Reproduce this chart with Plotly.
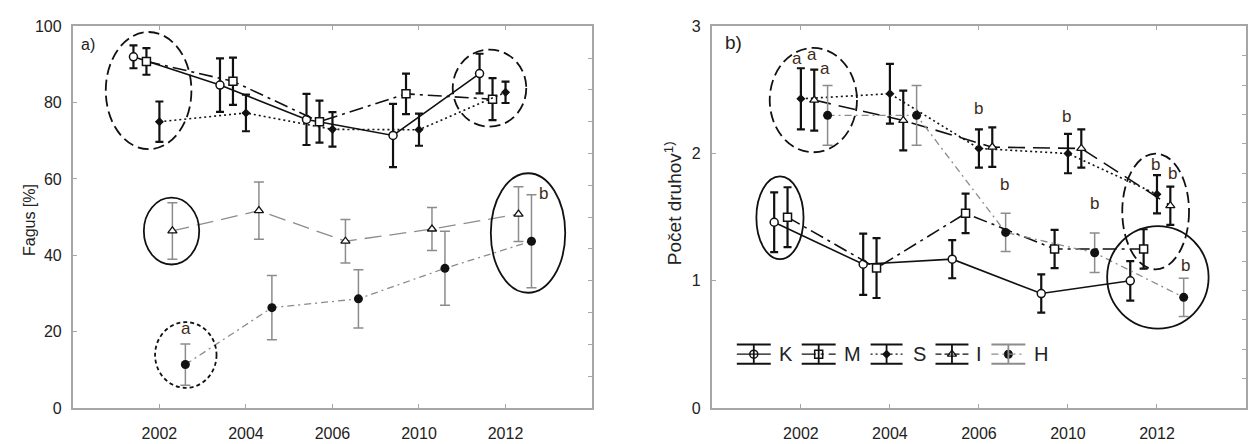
import plotly.graph_objects as go

# ---------------- data ----------------
years = ['2002', '2004', '2006', '2010', '2012']
series = ['K', 'M', 'S', 'I', 'H']

# panel a) Fagus [%]
fagus_K = [92.0, 84.6, 75.6, 71.4, 87.6]
fagus_K_err = [3.0, 7.0, 6.7, 8.3, 5.2]
fagus_M = [90.8, 85.6, 75.0, 82.3, 80.9]
fagus_M_err = [3.5, 6.2, 5.5, 5.3, 5.5]
fagus_S = [75.0, 77.3, 73.0, 72.9, 82.7]
fagus_S_err = [5.3, 4.8, 4.5, 4.2, 2.8]
fagus_I = [46.4, 51.7, 43.7, 46.9, 50.8]
fagus_I_err = [7.4, 7.5, 5.7, 5.6, 7.2]
fagus_H = [11.4, 26.3, 28.6, 36.6, 43.7]
fagus_H_err = [5.4, 8.4, 7.6, 9.7, 12.2]

# panel b) Počet druhov
druhy_K = [1.46, 1.13, 1.17, 0.90, 1.00]
druhy_K_err = [0.235, 0.24, 0.15, 0.15, 0.155]
druhy_M = [1.50, 1.10, 1.53, 1.25, 1.25]
druhy_M_err = [0.235, 0.235, 0.155, 0.15, 0.155]
druhy_S = [2.43, 2.47, 2.04, 2.00, 1.68]
druhy_S_err = [0.24, 0.235, 0.15, 0.155, 0.15]
druhy_I = [2.42, 2.26, 2.05, 2.04, 1.59]
druhy_I_err = [0.24, 0.235, 0.155, 0.15, 0.15]
druhy_H = [2.30, 2.30, 1.38, 1.22, 0.87]
druhy_H_err = [0.235, 0.235, 0.15, 0.155, 0.15]

fagus = {'K': (fagus_K, fagus_K_err), 'M': (fagus_M, fagus_M_err), 'S': (fagus_S, fagus_S_err),
         'I': (fagus_I, fagus_I_err), 'H': (fagus_H, fagus_H_err)}
druhy = {'K': (druhy_K, druhy_K_err), 'M': (druhy_M, druhy_M_err), 'S': (druhy_S, druhy_S_err),
         'I': (druhy_I, druhy_I_err), 'H': (druhy_H, druhy_H_err)}

# ---------------- styles ----------------
BLACK = '#111111'
GRAY = '#8c8c8c'
FRAME = '#a6a6a6'
TXT = '#222222'
LETTER = '#3d2b1a'
FONT = 'Liberation Sans, Arial, sans-serif'

offsets = {'K': -0.3, 'M': -0.15, 'S': 0.0, 'I': 0.15, 'H': 0.3}
dashes = {'K': 'solid', 'M': '14px,5px,3px,5px', 'S': '2px,3px', 'I': '17px,8px', 'H': '7px,4px,2px,4px'}
markers = {
    'K': dict(symbol='circle', size=8, color='white', line=dict(color=BLACK, width=1.5)),
    'M': dict(symbol='square', size=8, color='white', line=dict(color=BLACK, width=1.5)),
    'S': dict(symbol='diamond', size=7, color=BLACK, line=dict(color=BLACK, width=0)),
    'I': dict(symbol='triangle-up', size=8, color='white', line=dict(color=BLACK, width=1.3)),
    'H': dict(symbol='circle', size=9, color=BLACK, line=dict(color=BLACK, width=0)),
}
line_col_a = {'K': BLACK, 'M': BLACK, 'S': BLACK, 'I': GRAY, 'H': GRAY}
line_col_b = {'K': BLACK, 'M': BLACK, 'S': BLACK, 'I': BLACK, 'H': GRAY}

W, H = 1248, 444


def px_x(p):
    return p / W


def px_y(p):
    return 1 - p / H


fig = go.Figure()


def add_panel(data, colors, xa, ya):
    for s in series:
        vals, errs = data[s]
        xs = [i + offsets[s] for i in range(len(years))]
        col = colors[s]
        gray = col == GRAY
        fig.add_trace(go.Scatter(
            x=xs, y=vals, mode='lines+markers', name=s, showlegend=False,
            xaxis=xa, yaxis=ya,
            line=dict(color=col, width=1.3 if gray else 1.6, dash=dashes[s]),
            marker=markers[s],
            error_y=dict(type='data', array=errs, visible=True, color=col,
                         thickness=1.5 if gray else 2.2, width=5 if gray else 4),
        ))


add_panel(fagus, line_col_a, 'x', 'y')
add_panel(druhy, line_col_b, 'x2', 'y3')

# empty traces so the right-hand tick axes are created
fig.add_trace(go.Scatter(x=[], y=[], xaxis='x', yaxis='y2', showlegend=False))
fig.add_trace(go.Scatter(x=[], y=[], xaxis='x2', yaxis='y4', showlegend=False))

# ---------------- ellipses (decorations) ----------------
ellipses_a = [  # x0, x1, y0, y1, dash
    (-0.62, 0.37, 67.8, 98.5, '11px,5px'),
    (3.39, 4.24, 73.7, 93.9, '11px,5px'),
    (-0.18, 0.46, 37.6, 55.1, 'solid'),
    (3.83, 4.69, 30.2, 61.5, 'solid'),
    (-0.05, 0.66, 5.3, 22.5, '4px,3px'),
]
ellipses_b = [
    (-0.35, 0.63, 2.01, 2.83, '11px,5px'),
    (-0.50, 0.03, 1.17, 1.82, 'solid'),
    (3.61, 4.36, 1.09, 2.00, '11px,5px'),
    (3.44, 4.58, 0.625, 1.43, 'solid'),
]
shapes = []
for (x0, x1, y0, y1, d) in ellipses_a:
    shapes.append(dict(type='circle', xref='x', yref='y', x0=x0, x1=x1, y0=y0, y1=y1,
                       line=dict(color=BLACK, width=1.8, dash=d)))
for (x0, x1, y0, y1, d) in ellipses_b:
    shapes.append(dict(type='circle', xref='x2', yref='y3', x0=x0, x1=x1, y0=y0, y1=y1,
                       line=dict(color=BLACK, width=1.8, dash=d)))

# ---------------- letters ----------------
letters_a = [('a', 0.31, 20.8), ('b', 4.44, 56.2)]
letters_b = [('a', -0.04, 2.75), ('a', 0.125, 2.78), ('a', 0.27, 2.67),
             ('b', 2.0, 2.35), ('b', 2.29, 1.76), ('b', 2.98, 2.29), ('b', 3.30, 1.61),
             ('b', 3.98, 1.91), ('b', 4.17, 1.84), ('b', 4.32, 1.12)]
annotations = []
for t, x, y in letters_a:
    annotations.append(dict(text=t, x=x, y=y, xref='x', yref='y', showarrow=False,
                            font=dict(size=17, color=LETTER, family=FONT)))
for t, x, y in letters_b:
    annotations.append(dict(text=t, x=x, y=y, xref='x2', yref='y3', showarrow=False,
                            font=dict(size=17, color=LETTER, family=FONT)))

annotations.append(dict(text='a)', x=-0.93, y=95.2, xref='x', yref='y', xanchor='left',
                        showarrow=False, font=dict(size=16, color=TXT, family=FONT)))
annotations.append(dict(text='b)', x=-0.88, y=2.87, xref='x2', yref='y3', xanchor='left',
                        showarrow=False, font=dict(size=19, color=TXT, family=FONT)))

# y titles
annotations.append(dict(text='Fagus [%]', x=px_x(19), y=px_y(220), xref='paper', yref='paper',
                        textangle=-90, showarrow=False, font=dict(size=16, color=TXT, family=FONT)))
annotations.append(dict(text='Počet druhov<sup>1)</sup>', x=px_x(674), y=px_y(203), xref='paper',
                        yref='paper', textangle=-90, showarrow=False,
                        font=dict(size=19, color=TXT, family=FONT)))

# ---------------- custom legend (panel b) ----------------
leg_items = [('K', 738, 772, 787), ('M', 803, 837, 854), ('S', 872, 904, 921),
             ('I', 937, 970, 981), ('H', 993, 1027, 1043)]
LY_TOP, LY_MID, LY_BOT = 350, 360, 370
for s, a0, a1, tx in leg_items:
    col = line_col_b[s]
    cx = (a0 + a1) / 2
    for yy in (LY_TOP, LY_BOT):
        shapes.append(dict(type='line', xref='x3', yref='y5', x0=a0, x1=a1, y0=yy, y1=yy,
                           line=dict(color=col, width=2)))
    shapes.append(dict(type='line', xref='x3', yref='y5', x0=cx, x1=cx, y0=LY_TOP, y1=LY_BOT,
                       line=dict(color=col, width=1.8)))
    shapes.append(dict(type='line', xref='x3', yref='y5', x0=a0, x1=a1, y0=LY_MID, y1=LY_MID,
                       line=dict(color=col, width=1.3,
                                 dash='6px,3px' if s == 'I' else dashes[s])))
    fig.add_trace(go.Scatter(x=[cx], y=[LY_MID], mode='markers', xaxis='x3', yaxis='y5',
                             marker=markers[s], showlegend=False, cliponaxis=False))
    annotations.append(dict(text=s, x=tx, y=LY_MID, xref='x3', yref='y5', showarrow=False,
                            font=dict(size=20, color=TXT, family=FONT)))

# ---------------- axes ----------------
ydom = [px_y(416), px_y(19)]
common_x = dict(range=[-1, 5], tickmode='array', tickvals=list(range(len(years))), ticktext=years,
                ticks='inside', ticklen=4, tickwidth=1.3, tickcolor=FRAME,
                showline=True, linecolor=FRAME, linewidth=2, mirror='ticks',
                showgrid=False, zeroline=False, ticklabelstandoff=10,
                tickfont=dict(size=16, color=TXT, family=FONT))
common_y = dict(ticks='inside', ticklen=4, tickwidth=1.3, tickcolor=FRAME,
                showline=True, linecolor=FRAME, linewidth=2, mirror=True,
                showgrid=False, zeroline=False, ticklabelstandoff=6,
                tickfont=dict(size=16, color=TXT, family=FONT))
right_y = dict(side='right', dtick=1, ticks='inside', ticklen=4, tickwidth=1.3, tickcolor=FRAME,
               showticklabels=False, showline=False, showgrid=False, zeroline=False)

fig.update_layout(
    width=W, height=H,
    margin=dict(l=0, r=0, t=0, b=0),
    paper_bgcolor='white', plot_bgcolor='rgba(0,0,0,0)',
    showlegend=False,
    xaxis=dict(domain=[px_x(73), px_x(593)], anchor='y', **common_x),
    yaxis=dict(domain=ydom, anchor='x', range=[0, 100], tick0=0, dtick=20, **common_y),
    yaxis2=dict(overlaying='y', anchor='x', range=[0, 12], **right_y),
    xaxis2=dict(domain=[px_x(713), 1.0], anchor='y3', **common_x),
    yaxis3=dict(domain=ydom, anchor='x2', range=[0, 3], tick0=0, dtick=1, **common_y),
    yaxis4=dict(overlaying='y3', anchor='x2', range=[0, 13], **right_y),
    xaxis3=dict(domain=[0, 1], anchor='y5', range=[0, W], visible=False, fixedrange=True),
    yaxis5=dict(domain=[0, 1], anchor='x3', range=[H, 0], visible=False, fixedrange=True),
    shapes=shapes,
    annotations=annotations,
    font=dict(family=FONT, color=TXT),
)

fig.write_html('out.html')
